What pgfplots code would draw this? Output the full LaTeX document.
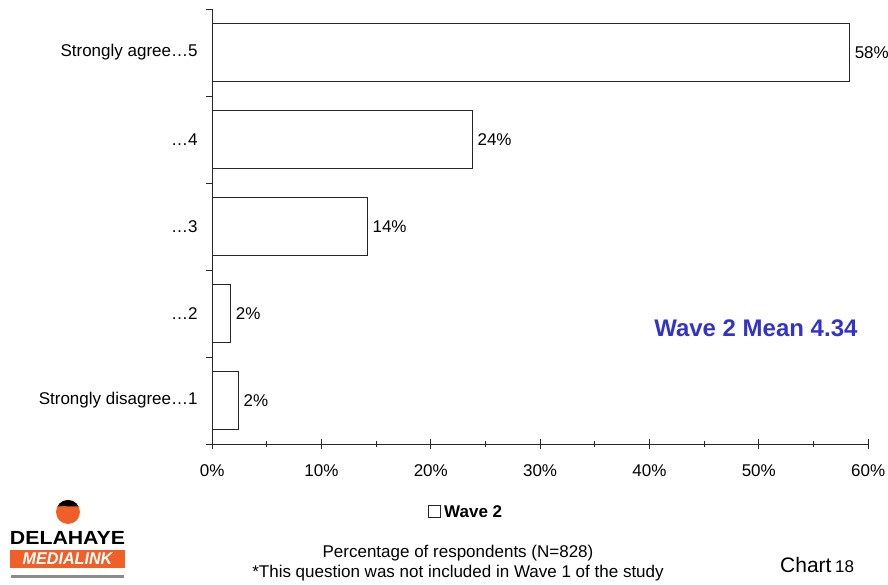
\documentclass[border=0pt]{standalone}
\usepackage{pgfplots}
\pgfplotsset{compat=1.18}
\usepackage{fontspec}
\setmainfont{Liberation Sans}
\definecolor{meanblue}{RGB}{51,51,204}
\definecolor{dmorange}{RGB}{240,95,40}
\begin{document}
\begin{tikzpicture}[x=1pt,y=1pt]
\path[use as bounding box] (0,0) rectangle (888,585);
\begin{axis}[
  at={(194,162)}, anchor=south west,
  scale only axis, width=656pt, height=435pt,
  xmin=0, xmax=60, ymin=-0.5, ymax=4.5,
  axis lines*=left,
  axis line style={line width=0.8pt, black!85},
  xtick={0,10,20,30,40,50,60},
  xticklabels={0\%,10\%,20\%,30\%,40\%,50\%,60\%},
  minor xtick={5,15,25,35,45,55},
  xtick align=center, ytick align=outside,
  xtick style={line width=0.8pt, black!85},
  major tick length=10pt, minor tick length=6pt,
  ytick={0,1,2,3,4},
  yticklabels={Strongly disagree…1,…2,…3,…4,Strongly agree…5},
  major y tick style={draw=none},
  minor ytick={-0.5,0.5,1.5,2.5,3.5,4.5},
  minor y tick style={line width=0.8pt, black!85},
  tick label style={font=\fontsize{17}{20}\selectfont},
  xticklabel style={yshift=-12pt},
  yticklabel style={xshift=-1pt},
  xbar, bar width=0.66,
  nodes near coords,
  point meta=explicit symbolic,
  every node near coord/.append style={font=\fontsize{17}{20}\selectfont, anchor=west, xshift=1.5pt},
  clip=false,
]
\addplot[draw=black!85, fill=white, line width=0.8pt] table[x=v, y=c, meta=l, row sep=\\] {
v c l\\
2.4 0 2\%\\
1.7 1 2\%\\
14.2 2 14\%\\
23.8 3 24\%\\
58.3 4 58\%\\
};
\end{axis}
% Mean text
\node[anchor=east, font=\fontsize{24}{28}\selectfont\bfseries, text=meanblue] at (861,257) {Wave 2 Mean 4.34};
% legend
\draw[black!85, line width=0.8pt] (428.5,67.5) rectangle (440.5,79.5);
\node[anchor=west, font=\fontsize{17}{20}\selectfont\bfseries, inner sep=0pt] at (444,73.5) {Wave 2};
% footnotes
\node[font=\fontsize{17}{20}\selectfont, inner sep=0pt] at (458,32) {Percentage of respondents (N=828)};
\node[font=\fontsize{17}{20}\selectfont, inner sep=0pt] at (458,12) {*This question was not included in Wave 1 of the study};
\node[anchor=west, inner sep=0pt] at (780,20) {\fontsize{21}{24}\selectfont Chart\,\fontsize{17}{20}\selectfont 18};
% logo
\begin{scope}
\fill[dmorange] (68,73) circle (12);
\clip (68,73) circle (12);
\fill[black] (50,76) .. controls (60,82) and (72,76) .. (86,80) -- (86,90) -- (50,90) -- cycle;
\end{scope}
\node[font=\fontsize{19}{22}\selectfont\bfseries, inner sep=0pt, xscale=1.12] at (67.5,47) {DELAHAYE};
\fill[dmorange] (10,17) rectangle (125,35);
\node[font=\fontsize{17}{18}\selectfont\bfseries\itshape, text=white, inner sep=0pt, xscale=0.95] at (67.5,26) {MEDIALINK};
\fill[black!45] (11,7) rectangle (124,10);
\end{tikzpicture}
\end{document}
